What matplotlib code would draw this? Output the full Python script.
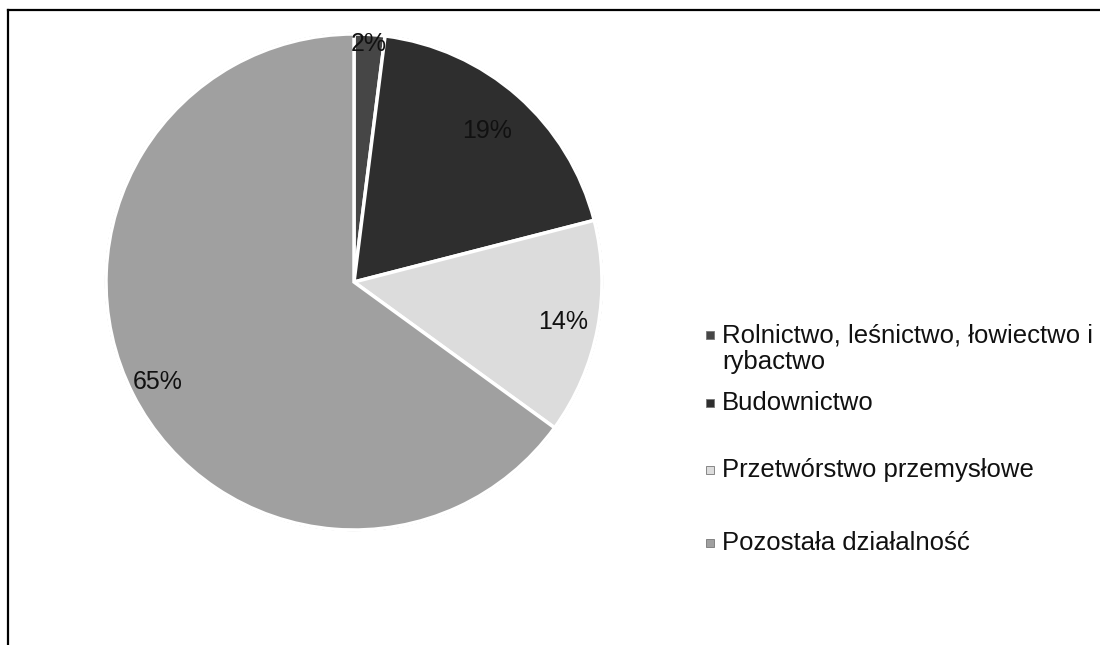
import matplotlib
matplotlib.use("Agg")
import matplotlib.pyplot as plt
from matplotlib.patches import Rectangle, Circle
from matplotlib.lines import Line2D
import numpy as np

plt.rcParams['font.family'] = ['Liberation Sans', 'DejaVu Sans']

categories = ["Rolnictwo, leśnictwo, łowiectwo i\nrybactwo", "Budownictwo",
              "Przetwórstwo przemysłowe", "Pozostała działalność"]
values = [2, 19, 14, 65]
colors = ["#464646", "#2e2e2e", "#dcdcdc", "#a0a0a0"]

W, H = 1100, 645
fig = plt.figure(figsize=(W / 100, H / 100), dpi=100)

cx, cy, R = 354, 282, 248
pad = 3
Ra = R + pad
ax = fig.add_axes([(cx - Ra) / W, (H - cy - Ra) / H, 2 * Ra / W, 2 * Ra / H])
ax.add_patch(Circle((0, 0), 1.0, fill=False, edgecolor="#4a4a4a", linewidth=1.6, zorder=0))
wedges, texts, autotexts = ax.pie(values, colors=colors, startangle=90, counterclock=False,
                                  autopct="%1.0f%%", pctdistance=0.86,
                                  wedgeprops=dict(edgecolor="white", linewidth=2.5),
                                  textprops=dict(fontsize=18, color="#111111"))
lim = Ra / R
ax.set_xlim(-lim, lim)
ax.set_ylim(-lim, lim)
ax.set_aspect("equal")
ax.axis("off")

dists = [0.96, 0.81, 0.86, 0.89]
for w, t, d in zip(wedges, autotexts, dists):
    th = np.deg2rad((w.theta1 + w.theta2) / 2)
    t.set_position((d * np.cos(th), d * np.sin(th)))
    t.set_ha("center")
    t.set_va("center")

# frame lines (top and left)
fig.add_artist(Line2D([8 / W, 1.0], [1 - 10 / H, 1 - 10 / H], transform=fig.transFigure,
                      color="black", linewidth=1.6))
fig.add_artist(Line2D([8 / W, 8 / W], [1 - 10 / H, 0.0], transform=fig.transFigure,
                      color="black", linewidth=1.6))

# legend
leg_y = [335, 403, 470, 543]
for lab, col, y in zip(categories, colors, leg_y):
    fig.add_artist(Rectangle(((706) / W, (H - y - 4) / H), 8 / W, 8 / H,
                             transform=fig.transFigure, facecolor=col,
                             edgecolor="#777777", linewidth=0.6))
    if "\n" in lab:
        fig.text(722 / W, (H - y + 11) / H, lab, fontsize=18.5, va="top", ha="left",
                 linespacing=1.12, color="#111111")
    else:
        fig.text(722 / W, (H - y) / H, lab, fontsize=18.5, va="center", ha="left",
                 color="#111111")

fig.savefig("out.png", dpi=100, facecolor="white")
